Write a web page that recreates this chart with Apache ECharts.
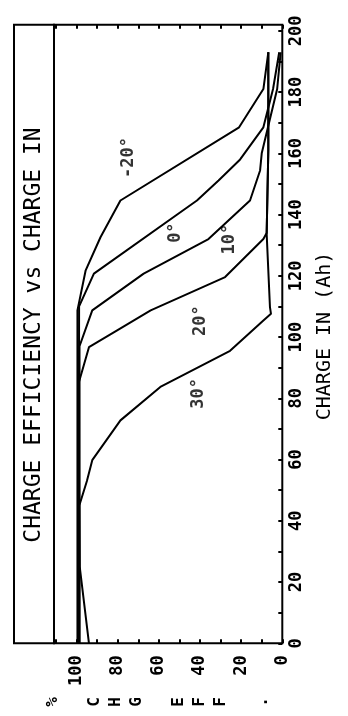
<!DOCTYPE html>
<html><head><meta charset="utf-8">
<script src="https://cdn.jsdelivr.net/npm/echarts@6/dist/echarts.min.js"></script>
<style>html,body{margin:0;padding:0;background:#fff}#c{width:348px;height:716px}</style>
</head><body><div id="c"></div>
<script>
// ---- texts ----
const titleText = 'CHARGE EFFICIENCY vs CHARGE IN';
const chargeAxisName = 'CHARGE IN (Ah)';
const effAxisChars = ['%', ' ', 'C', 'H', 'G', ' ', 'E', 'F', 'F', ' ', '.'];

// ---- tick labels ----
const chargeTickLabels = [0, 20, 40, 60, 80, 100, 120, 140, 160, 180, 200];
const effTickLabels = [0, 20, 40, 60, 80, 100];

// ---- series (charge in Ah, efficiency in %) ----
const seriesNames = ['-20°', '0°', '10°', '20°', '30°'];

const chargeM20 = [0, 108.7, 121.8, 132.6, 144.6, 168.5, 181, 193];
const effM20    = [99.6, 99.6, 95.6, 88.4, 78.7, 21, 9.2, 6.8];

const charge0 = [0, 110, 120.7, 144.6, 151.1, 158, 168.5, 181, 193];
const eff0    = [99, 98.8, 91.6, 41.5, 31, 20.5, 9.2, 4.5, 1.5];

const charge10 = [0, 97, 108.7, 120.7, 132, 144.6, 154.4, 160, 181, 193];
const eff10    = [98.5, 98.6, 92.4, 67.4, 35.9, 15.7, 10.8, 10, 2.5, 0.8];

const charge20 = [0, 85, 96.7, 102.2, 108.7, 119.6, 132, 134, 161, 193];
const eff20    = [99.2, 99, 94, 80.3, 64, 27.8, 9.2, 7.6, 6.8, 6.8];

const charge30 = [0, 25, 45, 53, 59.8, 72.8, 83.7, 95.5, 105.4, 107.6, 109.8, 133.7, 161, 193];
const eff30    = [94, 98.5, 98.7, 95, 92.4, 78.7, 59.3, 25.4, 9.2, 5.5, 6, 7.6, 6.8, 6.8];

// ---- curve labels (position in data units) ----
const labelCharge = [158.6, 134.1, 132, 105.4, 81.6];
const labelEff    = [74.8, 52, 25.8, 39.9, 40.9];

const curves = [
  [chargeM20, effM20], [charge0, eff0], [charge10, eff10], [charge20, eff20], [charge30, eff30]
];

const MONO = '"DejaVu Sans Mono", "Liberation Mono", monospace';
const chart = echarts.init(document.getElementById('c'), null, {renderer: 'canvas'});

const G = {left: 54, right: 65.7, top: 24.7, bottom: 72.7};
const plotBottom = 716 - G.bottom;

const lineSeries = curves.map((c, i) => ({
  type: 'line',
  name: seriesNames[i],
  xAxisIndex: 0, yAxisIndex: 0,
  data: c[0].map((ch, k) => [c[1][k], ch]),
  symbol: 'none',
  lineStyle: {color: '#000', width: 2},
  silent: true,
  animation: false
}));

const labelSeries = {
  type: 'scatter',
  xAxisIndex: 0, yAxisIndex: 0,
  symbolSize: 0,
  silent: true,
  animation: false,
  itemStyle: {color: '#000'},
  data: seriesNames.map((n, i) => [labelEff[i], labelCharge[i], n]),
  label: {
    show: true, position: 'inside', rotate: 90,
    formatter: p => p.data[2],
    color: '#000', textBorderWidth: 0, textShadowBlur: 0,
    fontFamily: MONO, fontWeight: 'bold', fontSize: 17
  }
};

const option = {
  backgroundColor: '#fff',
  animation: false,
  grid: {left: G.left, right: G.right, top: G.top, bottom: G.bottom, show: true,
         borderColor: '#000', borderWidth: 2, containLabel: false},
  xAxis: [{
    type: 'value', position: 'bottom', inverse: true, min: 0, max: 111, interval: 10,
    axisLine: {show: false},
    axisTick: {show: true, inside: true, length: 4, lineStyle: {color: '#000', width: 2}},
    splitLine: {show: false},
    axisLabel: {
      show: true, rotate: 90, margin: 12, color: '#000', fontFamily: MONO, fontWeight: 'bold', fontSize: 17,
      showMaxLabel: false,
      formatter: v => effTickLabels.includes(v) ? String(v) : ''
    }
  }, {
    type: 'value', position: 'top', inverse: true, min: 0, max: 111, interval: 10,
    axisLine: {show: false},
    axisTick: {show: true, inside: true, length: 4, lineStyle: {color: '#000', width: 2}},
    splitLine: {show: false},
    axisLabel: {show: false}
  }],
  yAxis: [{
    type: 'value', position: 'right', min: 0, max: 202, interval: 10,
    axisLine: {show: false},
    axisTick: {show: true, inside: true, length: 4, lineStyle: {color: '#000', width: 2}},
    splitLine: {show: false},
    axisLabel: {
      show: true, rotate: 90, margin: 6, color: '#000', fontFamily: MONO, fontWeight: 'bold', fontSize: 17,
      showMaxLabel: false,
      formatter: v => chargeTickLabels.includes(v) ? String(v) : ''
    }
  }],
  series: lineSeries.concat([labelSeries]),
  graphic: [
    {type: 'rect', shape: {x: 14, y: G.top, width: G.left - 14, height: plotBottom - G.top},
     style: {fill: 'none', stroke: '#000', lineWidth: 2}, silent: true},
    {type: 'text', x: 34, y: 335, rotation: Math.PI / 2,
     style: {text: titleText, fontFamily: MONO, fontSize: 23, fill: '#000', align: 'center', verticalAlign: 'middle'}},
    {type: 'text', x: 325, y: 336, rotation: Math.PI / 2,
     style: {text: chargeAxisName, fontFamily: MONO, fontSize: 20, fill: '#000', align: 'center', verticalAlign: 'middle'}},
    {type: 'text', x: 158, y: 702, rotation: Math.PI / 2,
     style: {text: effAxisChars.join('\n'), fontFamily: MONO, fontWeight: 'bold', fontSize: 16, lineHeight: 21,
             fill: '#000', align: 'center', verticalAlign: 'middle'}}
  ]
};
chart.setOption(option);
</script>
</body></html>
